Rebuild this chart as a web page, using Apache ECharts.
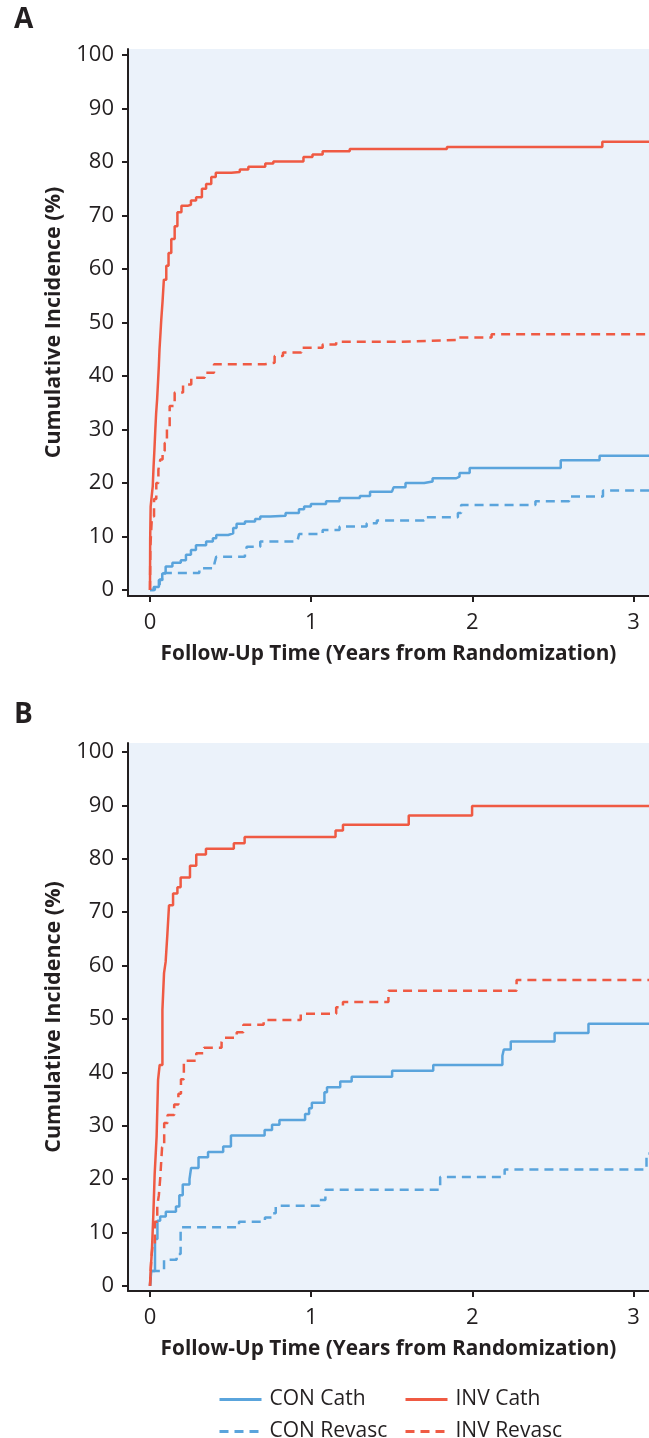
<!DOCTYPE html>
<html><head><meta charset="utf-8">
<script src="https://cdn.jsdelivr.net/npm/echarts@6/dist/echarts.min.js"></script>
<style>html,body{margin:0;padding:0;background:#fff}#c{width:649px;height:1438px}</style>
</head><body><div id="c"></div>
<script>
// ---- data (time in years, cumulative incidence in %) ----
const X_TICKS = [0, 1, 2, 3];
const Y_TICKS = [0, 10, 20, 30, 40, 50, 60, 70, 80, 90, 100];
const SERIES_NAMES = ['CON Cath', 'INV Cath', 'CON Revasc', 'INV Revasc'];

const A_CON_CATH = [[0,0],[0.023,0.6],[0.055,1.9],[0.076,3.1],[0.097,4.4],[0.139,5.1],[0.191,5.6],[0.223,6.6],[0.254,7.5],[0.285,8.4],[0.348,9.1],[0.39,9.7],[0.411,10.3],[0.485,10.6],[0.516,11.6],[0.537,12.4],[0.589,12.8],[0.652,13.3],[0.684,13.75],[0.746,13.9],[0.841,14.4],[0.924,15.1],[0.956,15.6],[0.998,16.1],[1.092,16.6],[1.176,17.2],[1.302,17.6],[1.365,18.4],[1.501,18.75],[1.511,19.2],[1.585,20],[1.701,20.3],[1.753,20.9],[1.9,21.2],[1.92,21.9],[1.983,22.8],[2.548,24.25],[2.789,25.1],[3.2,25.1]];
const A_CON_REV = [[0,0],[0.03,1],[0.06,2],[0.086,3.2],[0.306,4.1],[0.4,5],[0.411,6.25],[0.589,6.75],[0.6,8.1],[0.684,9.1],[0.914,9.25],[0.925,10.5],[1.071,11.25],[1.176,11.9],[1.344,12.5],[1.407,13],[1.7,13.6],[1.91,14.4],[1.93,15.9],[2.391,16.6],[2.6,17.5],[2.81,18.6],[3.2,18.6]];
const A_INV_CATH = [[0,0],[0.001,9.4],[0.004,15.6],[0.012,18],[0.017,19.4],[0.022,23],[0.027,26],[0.033,30],[0.038,33],[0.044,35.6],[0.05,39],[0.055,42],[0.059,45],[0.065,48],[0.070,50.6],[0.078,54],[0.086,58],[0.101,60.6],[0.115,63],[0.132,65.6],[0.153,68],[0.170,70.6],[0.195,71.8],[0.233,72],[0.254,72.8],[0.286,73.4],[0.322,75],[0.348,75.9],[0.380,77.2],[0.408,78],[0.505,78.1],[0.557,78.6],[0.61,79.1],[0.715,79.7],[0.765,80.1],[0.952,80.9],[1.008,81.4],[1.071,82],[1.239,82.4],[1.842,82.8],[2.806,83.75],[3.2,83.75]];
const A_INV_REV = [[0,0],[0.002,8],[0.012,13.75],[0.025,17],[0.039,20],[0.052,22.5],[0.064,24.4],[0.078,26],[0.091,27.5],[0.105,30.6],[0.122,34.4],[0.153,36.9],[0.205,38.4],[0.256,39.7],[0.339,40.6],[0.397,42.2],[0.711,42.5],[0.773,43.75],[0.825,44.4],[0.939,45.3],[1.071,45.9],[1.155,46.4],[1.553,46.75],[1.91,47.2],[2.119,47.8],[3.2,47.8]];

const B_CON_CATH = [[0,0],[0.008,2.8],[0.031,8.8],[0.046,12.2],[0.063,13],[0.098,13.9],[0.161,14.9],[0.182,17],[0.203,19],[0.245,20],[0.255,22.1],[0.301,24.1],[0.36,25.1],[0.454,26.1],[0.502,28.2],[0.711,29.2],[0.757,30.2],[0.803,31.1],[0.962,32.2],[0.987,33.3],[1.004,34.3],[1.082,36.3],[1.098,37.2],[1.18,38.3],[1.251,39.2],[1.502,40.3],[1.757,41.4],[2.186,43.1],[2.195,44.3],[2.238,45.8],[2.51,47.4],[2.72,49.1],[3.2,49.1]];
const B_CON_REV = [[0,0],[0.005,2.8],[0.087,4.9],[0.165,6],[0.19,11],[0.552,12],[0.713,12.8],[0.755,13.6],[0.78,15],[1.05,16.1],[1.088,18],[1.8,20.4],[2.2,21.8],[3.08,24.8],[3.2,24.8]];
const B_INV_CATH = [[0,0],[0.004,3],[0.012,6.7],[0.021,13.6],[0.029,21],[0.041,28],[0.05,38.6],[0.06,41.4],[0.077,51.7],[0.087,58.6],[0.097,60.7],[0.108,66],[0.118,71.3],[0.143,73.5],[0.17,74.7],[0.19,76.5],[0.248,78.7],[0.287,80.8],[0.347,81.9],[0.52,82.9],[0.587,84.1],[1.151,85.3],[1.197,86.4],[1.605,88.1],[1.998,89.9],[3.2,89.9]];
const B_INV_REV = [[0,0],[0.008,5],[0.015,7.5],[0.03,12],[0.045,15],[0.055,17],[0.063,20],[0.075,26],[0.088,30.5],[0.109,32],[0.15,34],[0.176,36],[0.192,38.7],[0.21,42.2],[0.287,43.6],[0.335,44.6],[0.444,45.7],[0.454,46.5],[0.538,47.5],[0.579,48.9],[0.705,49.8],[0.935,51],[1.155,52.2],[1.197,53.2],[1.479,55.3],[2.274,57.3],[3.2,57.3]];

// ---- styling ----
const INK = '#231F20';
const RED = '#EF5A43';
const BLUE = '#5AA4DC';
const BG = '#EBF2FA';
const FONT = '"Open Sans", Lato, sans-serif';
const DASH = [9, 6];

const chart = echarts.init(document.getElementById('c'), null, {renderer: 'canvas'});

function xAxis(gi) {
  return {
    gridIndex: gi, type: 'value', min: -0.1365, max: 3.0955,
    axisLine: {show: true, onZero: false, lineStyle: {color: INK, width: 2}},
    axisTick: {show: true, customValues: X_TICKS, length: 6, lineStyle: {color: INK, width: 2}},
    axisLabel: {customValues: X_TICKS, margin: 16, fontSize: 22, color: INK, fontFamily: FONT},
    splitLine: {show: false},
    name: 'Follow-Up Time (Years from Randomization)', nameLocation: 'middle', nameGap: 48,
    nameTextStyle: {fontSize: 20.8, fontWeight: 'bold', color: INK, fontFamily: FONT}
  };
}
function yAxis(gi, mn, mx) {
  return {
    gridIndex: gi, type: 'value', min: mn, max: mx,
    axisLine: {show: true, onZero: false, lineStyle: {color: INK, width: 2}},
    axisTick: {show: true, customValues: Y_TICKS, length: 6, lineStyle: {color: INK, width: 2}},
    axisLabel: {customValues: Y_TICKS, margin: 14, fontSize: 22, color: INK, fontFamily: FONT},
    splitLine: {show: false},
    name: 'Cumulative Incidence (%)', nameLocation: 'middle', nameGap: 63, nameRotate: 90,
    nameTextStyle: {fontSize: 21.5, fontWeight: 'bold', color: INK, fontFamily: FONT}
  };
}
function line(name, data, gi, color, dashed) {
  return {
    name: name, type: 'line', step: 'end', data: data, xAxisIndex: gi, yAxisIndex: gi,
    symbol: 'none', showSymbol: false, animation: false,
    itemStyle: {color: color},
    lineStyle: {color: color, width: 2.5, type: dashed ? DASH : 'solid'}
  };
}

const legendCommon = {
  orient: 'vertical', top: 1389, height: 60, itemWidth: 42, itemHeight: 20, itemGap: 11, padding: 0,
  selectedMode: false,
  itemStyle: {opacity: 0},
  lineStyle: {width: 3},
  textStyle: {fontSize: 21, lineHeight: 20, color: INK, fontFamily: FONT, padding: [0, 0, 0, 3]}
};

chart.setOption({
  animation: false,
  backgroundColor: '#fff',
  grid: [
    {left: 128, right: 0, top: 49, height: 547, show: true, backgroundColor: BG, borderWidth: 0},
    {left: 128, right: 0, top: 743, height: 548, show: true, backgroundColor: BG, borderWidth: 0}
  ],
  xAxis: [xAxis(0), xAxis(1)],
  yAxis: [yAxis(0, -1.1, 101.1), yAxis(1, -0.95, 101.7)],
  legend: [
    Object.assign({}, legendCommon, {left: 218, data: [SERIES_NAMES[0], SERIES_NAMES[2]]}),
    Object.assign({}, legendCommon, {left: 404, data: [SERIES_NAMES[1], SERIES_NAMES[3]]})
  ],
  graphic: [
    {type: 'text', left: 14, top: 6, style: {text: 'A', fontSize: 28, fontWeight: 'bold', fill: INK, fontFamily: FONT}},
    {type: 'text', left: 14, top: 701, style: {text: 'B', fontSize: 28, fontWeight: 'bold', fill: INK, fontFamily: FONT}}
  ],
  series: [
    line(SERIES_NAMES[2], A_CON_REV, 0, BLUE, true),
    line(SERIES_NAMES[0], A_CON_CATH, 0, BLUE, false),
    line(SERIES_NAMES[3], A_INV_REV, 0, RED, true),
    line(SERIES_NAMES[1], A_INV_CATH, 0, RED, false),
    line(SERIES_NAMES[2], B_CON_REV, 1, BLUE, true),
    line(SERIES_NAMES[0], B_CON_CATH, 1, BLUE, false),
    line(SERIES_NAMES[3], B_INV_REV, 1, RED, true),
    line(SERIES_NAMES[1], B_INV_CATH, 1, RED, false)
  ]
});
</script></body></html>
